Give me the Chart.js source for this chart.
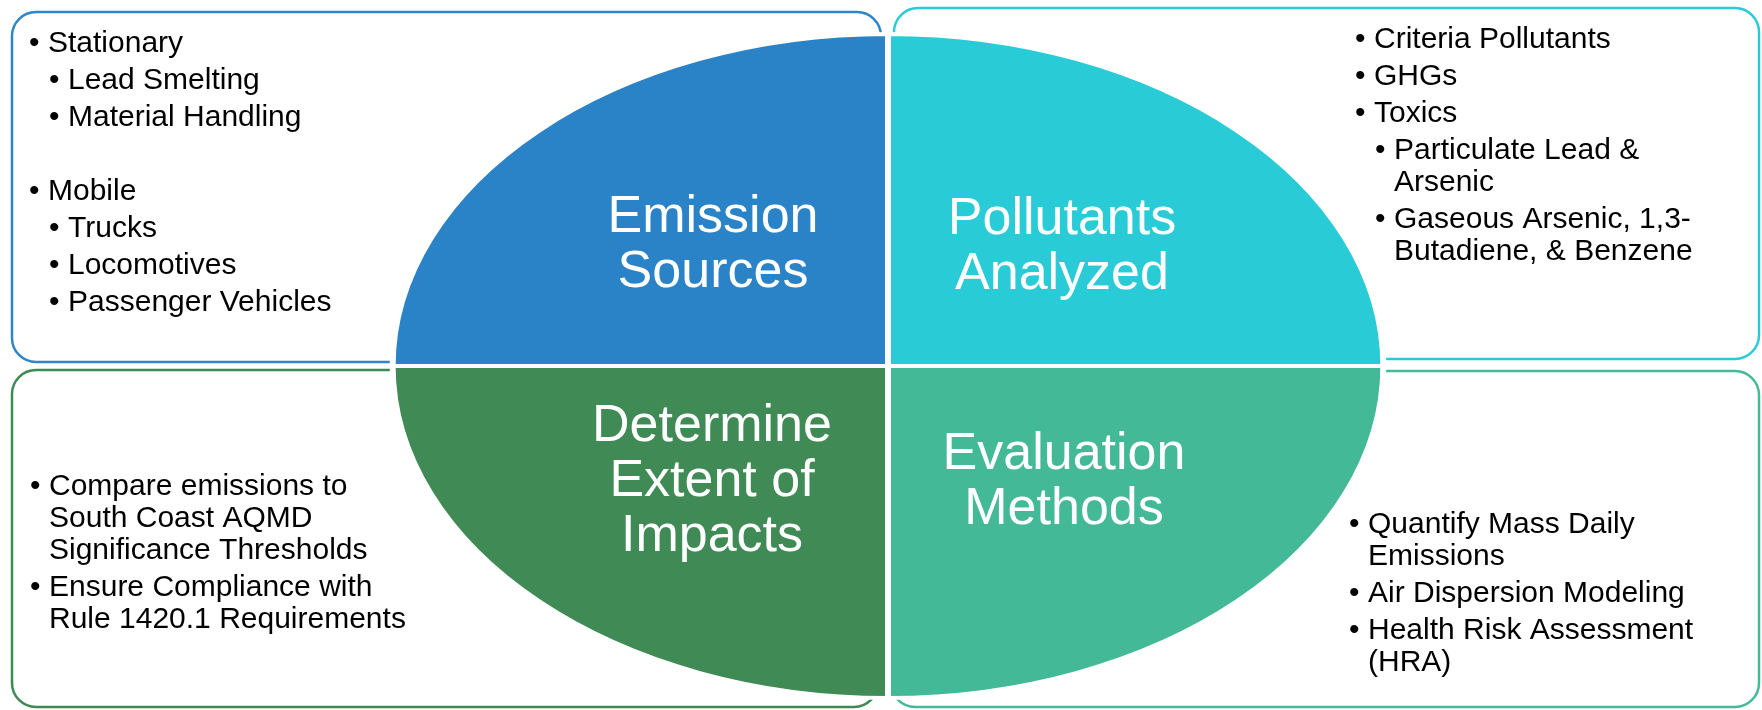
<!DOCTYPE html>
<html>
<head>
<meta charset="utf-8">
<script src="https://cdn.jsdelivr.net/npm/chart.js@4"></script>
<style>
  html, body { margin: 0; padding: 0; background: #fff; }
  #wrap { width: 1762px; height: 710px; }
</style>
</head>
<body>
<div id="wrap"><canvas id="diagram" width="1762" height="710"></canvas></div>
<script>
// quadrants, clockwise from the top (chart.js pie starts at 12 o'clock)
const quadrantTitles = [
    ['Pollutants', 'Analyzed'],
    ['Evaluation', 'Methods'],
    ['Determine', 'Extent of', 'Impacts'],
    ['Emission', 'Sources']
];
const quadrantShares = [1, 1, 1, 1];
const quadrantColors = ['#29CCD6', '#44B997', '#3F8A55', '#2A83C6'];

// bullet lists: [level, line, line, ...]
const sourceItems = [
    [0, 'Stationary'],
    [1, 'Lead Smelting'],
    [1, 'Material Handling'],
    [0, ''],
    [0, 'Mobile'],
    [1, 'Trucks'],
    [1, 'Locomotives'],
    [1, 'Passenger Vehicles']
];
const pollutantItems = [
    [0, 'Criteria Pollutants'],
    [0, 'GHGs'],
    [0, 'Toxics'],
    [1, 'Particulate Lead &', 'Arsenic'],
    [1, 'Gaseous Arsenic, 1,3-', 'Butadiene, & Benzene']
];
const impactItems = [
    [0, 'Compare emissions to', 'South Coast AQMD', 'Significance Thresholds'],
    [0, 'Ensure Compliance with', 'Rule 1420.1 Requirements']
];
const methodItems = [
    [0, 'Quantify Mass Daily', 'Emissions'],
    [0, 'Air Dispersion Modeling'],
    [0, 'Health Risk Assessment', '(HRA)']
];

// layout
const FONT = '"Liberation Sans", Arial, sans-serif';
const ellipseStretch = 1.492;
const boxes = [
    { x: 12, y: 12, w: 869, h: 350, color: '#2E85C7', items: sourceItems, bx: 29, by: 44 },
    { x: 894, y: 8, w: 865, h: 351, color: '#2ACBD6', items: pollutantItems, bx: 1355, by: 40 },
    { x: 12, y: 370, w: 866, h: 337, color: '#3E8A55', items: impactItems, bx: 30, by: 487 },
    { x: 891, y: 371, w: 868, h: 336, color: '#45BA99', items: methodItems, bx: 1349, by: 525 }
];
// title anchor (center x, first line y) for each quadrant, same order as quadrantTitles
const titleSpots = [[1062, 220], [1064, 455], [712, 427], [713, 218]];

function roundBox(ctx, x, y, w, h, r) {
    ctx.beginPath();
    ctx.moveTo(x + r, y);
    ctx.lineTo(x + w - r, y);
    ctx.arcTo(x + w, y, x + w, y + r, r);
    ctx.lineTo(x + w, y + h - r);
    ctx.arcTo(x + w, y + h, x + w - r, y + h, r);
    ctx.lineTo(x + r, y + h);
    ctx.arcTo(x, y + h, x, y + h - r, r);
    ctx.lineTo(x, y + r);
    ctx.arcTo(x, y, x + r, y, r);
    ctx.closePath();
}

const diagramPlugin = {
    id: 'diagram',
    beforeDraw(chart) {
        const ctx = chart.ctx;
        ctx.save();
        ctx.fillStyle = '#fff';
        ctx.fillRect(0, 0, chart.width, chart.height);
        ctx.lineWidth = 2.5;
        boxes.forEach(b => {
            roundBox(ctx, b.x, b.y, b.w, b.h, 24);
            ctx.strokeStyle = b.color;
            ctx.stroke();
        });
        ctx.restore();
    },
    beforeDatasetsDraw(chart) {
        // stretch the round pie into the ellipse
        const arc = chart.getDatasetMeta(0).data[0];
        const ctx = chart.ctx;
        ctx.save();
        ctx.translate(arc.x, arc.y);
        ctx.scale(ellipseStretch, 1);
        ctx.translate(-arc.x, -arc.y);
    },
    afterDatasetsDraw(chart) {
        chart.ctx.restore();
    },
    afterDraw(chart) {
        const ctx = chart.ctx;
        ctx.save();
        ctx.textBaseline = 'middle';

        // quadrant titles
        ctx.fillStyle = '#fff';
        ctx.font = '52px ' + FONT;
        ctx.textAlign = 'center';
        quadrantTitles.forEach((lines, i) => {
            const [cx, cy] = titleSpots[i];
            lines.forEach((t, j) => ctx.fillText(t, cx, cy + j * 55));
        });

        // bullet lists
        ctx.fillStyle = '#000';
        ctx.font = '30px ' + FONT;
        ctx.textAlign = 'left';
        boxes.forEach(b => {
            let y = b.by;
            b.items.forEach(item => {
                const level = item[0];
                const lines = item.slice(1);
                const x = b.bx + level * 20;
                if (lines[0] !== '') ctx.fillText('\u2022', x, y);
                lines.forEach((t, j) => ctx.fillText(t, x + 19, y + j * 32));
                y += lines.length * 32 + 5;
            });
        });
        ctx.restore();
    }
};

new Chart(document.getElementById('diagram'), {
    type: 'pie',
    data: {
        labels: quadrantTitles.map(t => t.join(' ')),
        datasets: [{
            data: quadrantShares,
            backgroundColor: quadrantColors,
            borderColor: '#fff',
            borderWidth: 4,
            hoverOffset: 0
        }]
    },
    options: {
        responsive: false,
        animation: false,
        events: [],
        layout: { padding: { left: 14, right: 0, top: 32, bottom: 10 } },
        plugins: {
            legend: { display: false },
            tooltip: { enabled: false }
        }
    },
    plugins: [diagramPlugin]
});
</script>
</body>
</html>
